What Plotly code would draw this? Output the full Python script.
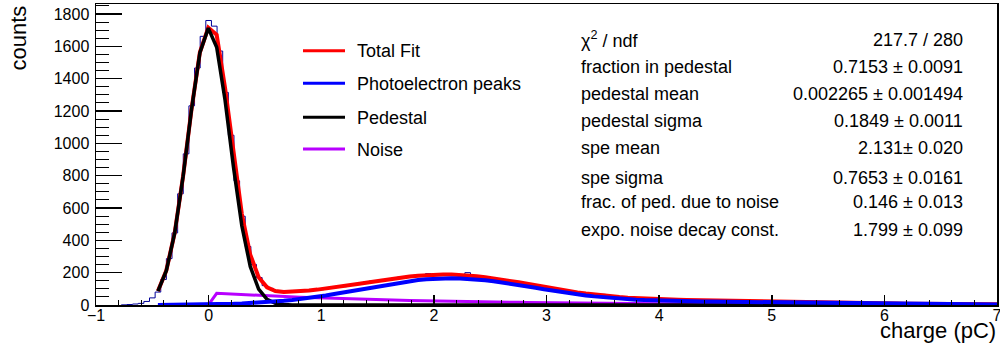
import numpy as np
import plotly.graph_objects as go

# ---------------- data ----------------
# Histogram: counts per 0.05 pC bin, bin centres from -0.75 pC upward
HIST_FIRST_CENTER = -0.75
HIST_BIN_WIDTH = 0.05
hist_counts = [
    1, 3, 6, 10, 22, 44, 80, 158, 287, 446,
    688, 935, 1232, 1466, 1662, 1760, 1725, 1571, 1315, 1050,
    768, 549, 362, 251, 170, 120, 103, 86, 84, 82,
    88, 86, 90, 88, 97, 95, 104, 103, 115, 113,
    126, 124, 131, 143, 148, 147, 158, 162, 163, 172,
    170, 178, 181, 186, 194, 189, 185, 190, 187, 192,
    188, 200, 178, 175, 171, 166, 162, 157, 150, 149,
    139, 133, 127, 124, 113, 108, 105, 95, 92, 84,
    82, 74, 73, 65, 61, 66, 53, 54, 47, 48,
    52, 41, 42, 37, 36, 34, 36, 32, 30, 33,
    29, 28, 31, 27, 26, 28, 25, 27, 24, 26,
    23, 22, 24, 25, 21, 20, 21, 18, 19, 20,
    17, 16, 17, 15, 16, 14, 15, 13, 14, 12,
    12, 11, 12, 10, 11, 9, 10, 8, 9, 7,
    8, 7, 6, 7, 6, 6, 5, 6, 5, 5,
    4, 5, 4, 5, 4, 4,
]

# Fit functions, sampled on the TF1 grid (fit range -0.45 .. 7 pC, 101 points)
FIT_MIN, FIT_MAX, FIT_NPX = -0.45, 7.0, 101
total_fit = [
    86.6, 213.4, 447.4, 798.3, 1211.6, 1563.6, 1716.0, 1671.3, 1341.9, 928.0,
    562.7, 311.5, 172.2, 109.1, 86.3, 81.0, 82.0, 85.3, 89.9, 95.2,
    101.3, 108.1, 115.5, 123.2, 131.3, 139.5, 147.7, 155.7, 163.2, 170.0,
    176.0, 180.9, 184.8, 187.2, 188.3, 188.0, 186.1, 182.9, 178.3, 172.5,
    165.6, 157.8, 149.3, 140.3, 131.0, 121.5, 112.1, 103.0, 94.2, 85.9,
    78.2, 71.1, 64.7, 58.9, 53.9, 49.4, 45.5, 42.3, 39.4, 37.0,
    35.0, 33.3, 31.8, 30.5, 29.4, 28.4, 27.4, 26.5, 25.7, 24.8,
    23.9, 23.0, 22.1, 21.2, 20.3, 19.3, 18.4, 17.5, 16.5, 15.7,
    14.8, 13.9, 13.1, 12.2, 11.5, 10.7, 10.0, 9.3, 8.7, 8.1,
    7.5, 7.0, 6.6, 6.2, 5.8, 5.4, 5.0, 4.7, 4.5, 4.2, 3.9,
]
pe_peaks = [
    0.6, 0.8, 1.0, 1.4, 1.9, 2.5, 3.3, 4.3, 5.6, 7.2,
    9.1, 11.5, 14.3, 17.7, 21.6, 26.2, 31.4, 37.3, 43.9, 51.1,
    59.0, 67.5, 76.5, 85.8, 95.4, 105.1, 114.7, 124.0, 132.8, 140.8,
    148.0, 154.1, 159.0, 162.5, 164.6, 165.2, 164.3, 162.0, 158.2, 153.2,
    147.1, 140.1, 132.3, 124.0, 115.3, 106.5, 97.7, 89.2, 80.9, 73.2,
    66.0, 59.4, 53.4, 48.1, 43.5, 39.5, 36.0, 33.1, 30.6, 28.6,
    26.9, 25.5, 24.4, 23.4, 22.6, 21.8, 21.1, 20.5, 19.9, 19.2,
    18.6, 17.9, 17.2, 16.5, 15.8, 15.0, 14.2, 13.5, 12.7, 12.0,
    11.3, 10.5, 9.8, 9.1, 8.5, 7.8, 7.2, 6.7, 6.2, 5.7,
    5.2, 4.8, 4.5, 4.1, 3.8, 3.5, 3.2, 3.0, 2.8, 2.6, 2.4,
]
pedestal = [
    86.0, 212.6, 446.4, 796.9, 1209.7, 1561.1, 1712.7, 1594.5, 1266.7, 854.0,
    489.5, 238.5, 98.9, 34.8, 10.4, 2.7, 0.6, 0.1,
] + [0.0] * 83
noise = [0.0] * 7 + [
    72.5, 69.6, 66.8, 64.1, 61.5, 59.0, 56.6, 54.3, 52.1, 50.0,
    47.9, 46.0, 44.1, 42.3, 40.6, 39.0, 37.4, 35.9, 34.4, 33.0,
    31.7, 30.4, 29.2, 28.0, 26.8, 25.8, 24.7, 23.7, 22.8, 21.8,
    20.9, 20.1, 19.3, 18.5, 17.7, 17.0, 16.3, 15.7, 15.0, 14.4,
    13.8, 13.3, 12.7, 12.2, 11.7, 11.3, 10.8, 10.4, 9.9, 9.5,
    9.2, 8.8, 8.4, 8.1, 7.8, 7.4, 7.1, 6.8, 6.6, 6.3,
    6.0, 5.8, 5.6, 5.3, 5.1, 4.9, 4.7, 4.5, 4.3, 4.2,
    4.0, 3.8, 3.7, 3.5, 3.4, 3.3, 3.1, 3.0, 2.9, 2.8,
    2.6, 2.5, 2.4, 2.3, 2.2, 2.1, 2.1, 2.0, 1.9, 1.8,
    1.7, 1.7, 1.6, 1.5,
]

x_tick_values = [-1, 0, 1, 2, 3, 4, 5, 6, 7]
y_tick_values = [0, 200, 400, 600, 800, 1000, 1200, 1400, 1600, 1800]

legend_labels = ["Total Fit", "Photoelectron peaks", "Pedestal", "Noise"]
stats_labels = [
    "χ<sup>2</sup> / ndf",
    "fraction in pedestal",
    "pedestal mean",
    "pedestal sigma",
    "spe mean",
    "spe sigma",
    "frac. of ped. due to noise",
    "expo. noise decay const.",
]
stats_values = [
    "217.7 / 280",
    "0.7153 ± 0.0091",
    "0.002265 ± 0.001494",
    "0.1849 ± 0.0011",
    "2.131± 0.020",
    "0.7653 ± 0.0161",
    "0.146 ± 0.013",
    "1.799 ± 0.099",
]

assert len(total_fit) == FIT_NPX and len(pe_peaks) == FIT_NPX
assert len(pedestal) == FIT_NPX and len(noise) == FIT_NPX

# ---------------- styling ----------------
W, H = 1000, 347
ML, MR, MT, MB = 96, 3, 4, 42
PW, PH = W - ML - MR, H - MT - MB
FONT = "Liberation Sans, Arial, Helvetica, sans-serif"

COL_TOTAL = "#ff0000"
COL_PE = "#0000ff"
COL_PED = "#000000"
COL_NOISE = "#b800ff"
COL_HIST = "#000099"


def px_x(px):
    return (px - ML) / PW


def px_y(py):
    return (H - MB - py) / PH


# histogram outline (ROOT-style step outline)
n = len(hist_counts)
edges = [HIST_FIRST_CENTER - HIST_BIN_WIDTH / 2 + HIST_BIN_WIDTH * k for k in range(n + 1)]
hx = [edges[0]] + edges[:n] + [edges[n], edges[n]]
hy = [0] + list(hist_counts) + [hist_counts[-1], 0]

fx = np.linspace(FIT_MIN, FIT_MAX, FIT_NPX)

fig = go.Figure()
fig.add_trace(go.Scatter(x=hx, y=hy, mode="lines", line=dict(color=COL_HIST, width=1, shape="hv"),
                         showlegend=False, hoverinfo="skip"))
fig.add_trace(go.Scatter(x=fx, y=total_fit, mode="lines", line=dict(color=COL_TOTAL, width=4),
                         name=legend_labels[0], showlegend=False))
fig.add_trace(go.Scatter(x=fx, y=noise, mode="lines", line=dict(color=COL_NOISE, width=3),
                         name=legend_labels[3], showlegend=False))
fig.add_trace(go.Scatter(x=fx, y=pedestal, mode="lines", line=dict(color=COL_PED, width=3.5),
                         name=legend_labels[2], showlegend=False))
fig.add_trace(go.Scatter(x=fx, y=pe_peaks, mode="lines", line=dict(color=COL_PE, width=4),
                         name=legend_labels[1], showlegend=False))

annotations = []
shapes = []

# legend drawn ROOT-style (no box)
leg_line_y = [50.7, 83.3, 117.3, 149.0]
leg_colors = [COL_TOTAL, COL_PE, COL_PED, COL_NOISE]
for lab, yy, col in zip(legend_labels, leg_line_y, leg_colors):
    shapes.append(dict(type="line", xref="paper", yref="paper",
                       x0=px_x(303), x1=px_x(345), y0=px_y(yy), y1=px_y(yy),
                       line=dict(color=col, width=3)))
    annotations.append(dict(text=lab, xref="paper", yref="paper", x=px_x(355), y=px_y(yy + 0.5),
                            xanchor="left", yanchor="middle", showarrow=False,
                            font=dict(family=FONT, size=18, color="black")))

# fit statistics box
stats_y = [39.5, 67, 94, 121, 148, 178, 202, 230]
for lab, val, yy in zip(stats_labels, stats_values, stats_y):
    annotations.append(dict(text=lab, xref="paper", yref="paper", x=px_x(579), y=px_y(yy),
                            xanchor="left", yanchor="middle", showarrow=False,
                            font=dict(family=FONT, size=18, color="black")))
    annotations.append(dict(text=val, xref="paper", yref="paper", x=px_x(965), y=px_y(yy),
                            xanchor="right", yanchor="middle", showarrow=False,
                            font=dict(family=FONT, size=18, color="black")))

# axis titles (ROOT puts them at the axis ends)
annotations.append(dict(text="counts", xref="paper", yref="paper", x=px_x(18), y=px_y(4),
                        xanchor="center", yanchor="top", textangle=-90, showarrow=False,
                        font=dict(family=FONT, size=22, color="black")))
annotations.append(dict(text="charge (pC)", xref="paper", yref="paper", x=px_x(998), y=px_y(331),
                        xanchor="right", yanchor="middle", showarrow=False,
                        font=dict(family=FONT, size=22, color="black")))

fig.update_layout(
    width=W, height=H,
    margin=dict(l=ML, r=MR, t=MT, b=MB, pad=0, autoexpand=False),
    paper_bgcolor="white", plot_bgcolor="white",
    showlegend=False,
    annotations=annotations, shapes=shapes,
    font=dict(family=FONT, color="black"),
)
fig.update_xaxes(
    range=[-1, 7], tickvals=x_tick_values, ticks="inside", ticklen=10, tickwidth=1.5, tickcolor="black",
    showline=True, linecolor="black", linewidth=1.5, mirror=True, showgrid=False, zeroline=False,
    automargin=False, ticklabeloverflow="allow", ticklabelstandoff=-5,
    tickfont=dict(family=FONT, size=16, color="black"),
    minor=dict(dtick=0.2, tick0=0, ticks="inside", ticklen=5, tickwidth=1, tickcolor="black", showgrid=False),
)
fig.update_yaxes(
    range=[0, 1862], tickvals=y_tick_values, ticks="inside", ticklen=26, tickwidth=1.5, tickcolor="black",
    showline=True, linecolor="black", linewidth=1.5, mirror=True, showgrid=False, zeroline=False,
    automargin=False, ticklabeloverflow="allow", ticklabelstandoff=2,
    tickfont=dict(family=FONT, size=16, color="black"),
    minor=dict(dtick=50, tick0=0, ticks="inside", ticklen=13, tickwidth=1, tickcolor="black", showgrid=False),
)

fig.write_html(
    "out.html",
    config={"displayModeBar": False, "staticPlot": True},
    post_script="document.body.style.margin='0';document.body.style.padding='0';"
                "document.body.style.overflow='hidden';",
)
